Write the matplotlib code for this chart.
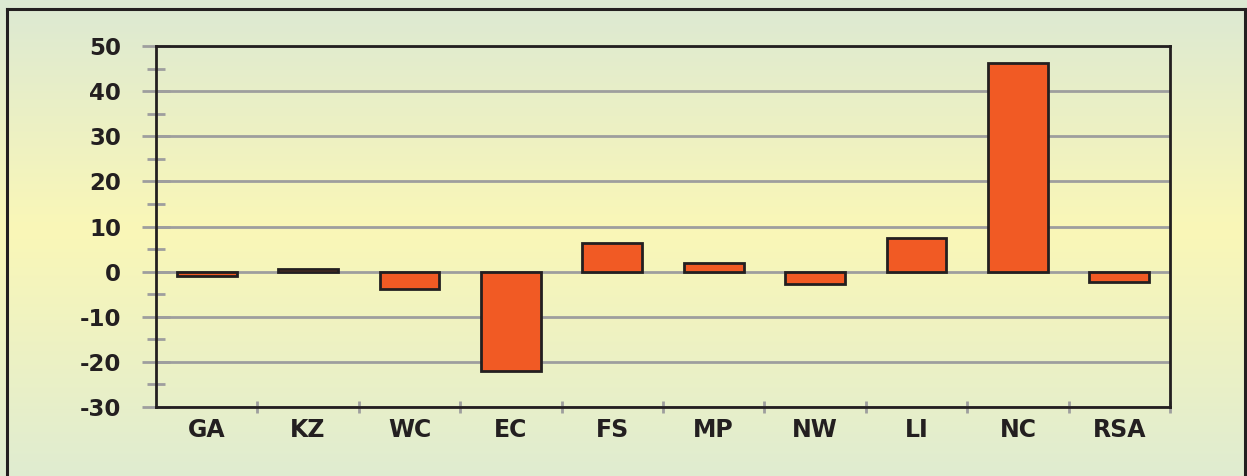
import numpy as np
import matplotlib
matplotlib.use("Agg")
import matplotlib.pyplot as plt
from matplotlib.colors import LinearSegmentedColormap
from matplotlib.lines import Line2D
from matplotlib.ticker import MultipleLocator, FixedLocator

plt.rcParams["axes.unicode_minus"] = False

categories = ["GA", "KZ", "WC", "EC", "FS", "MP", "NW", "LI", "NC", "RSA"]
values = [-0.9, 0.6, -3.8, -22.0, 6.3, 2.0, -2.7, 7.4, 46.3, -2.2]
y_ticks = [-30, -20, -10, 0, 10, 20, 30, 40, 50]

W, H = 1247, 476
fig = plt.figure(figsize=(W / 100, H / 100), dpi=100)
fig.patch.set_facecolor("#DDEBD3")

# background gradient (extends past the bottom edge of the figure)
ext = 0.05
bg = fig.add_axes([0, -ext, 1, 1 + ext], zorder=-10)
cmap = LinearSegmentedColormap.from_list(
    "bg", [(0.0, "#DCE9D3"), (0.46, "#FAF7B7"), (1.0, "#DDEBD3")])
grad = np.linspace(0, 1, 256).reshape(-1, 1)
bg.imshow(grad, aspect="auto", cmap=cmap, extent=[0, 1, 0, 1], origin="upper",
          interpolation="bilinear")
bg.set_xlim(0, 1)
bg.set_ylim(0, 1)
bg.axis("off")

# outer frame: left, top, right only
fr = fig.add_artist
xl, xr, yt = 6.5 / W, 1245 / W, 1 - 8.5 / H
for xs, ys in [([xl, xl], [-0.1, yt]), ([xl, xr], [yt, yt]), ([xr, xr], [yt, -0.1])]:
    fr(Line2D(xs, ys, color="#231F20", linewidth=2.2, transform=fig.transFigure,
              solid_capstyle="projecting"))

ax = fig.add_axes([156 / W, (H - 407) / H, (1170 - 156) / W, (407 - 46) / H])
ax.patch.set_alpha(0)
x = np.arange(len(categories))
ax.bar(x, values, width=0.59, color="#F15A24", edgecolor="#231F20",
       linewidth=2.0, zorder=3)

ax.set_xlim(-0.5, len(categories) - 0.5)
ax.set_ylim(-30, 50)
ax.yaxis.set_major_locator(FixedLocator(y_ticks))
ax.yaxis.set_minor_locator(MultipleLocator(5))
ax.set_xticks(x)
ax.set_xticklabels(categories)
ax.xaxis.set_minor_locator(FixedLocator(np.arange(0.5, len(categories), 1.0)))

ax.grid(axis="y", which="major", color="#9E9E9E", linewidth=2.0, zorder=1)
ax.set_axisbelow(True)

for s in ax.spines.values():
    s.set_color("#231F20")
    s.set_linewidth(2.0)

txt = "#231F20"
ax.tick_params(axis="y", which="major", direction="inout", length=20,
               width=2.0, color="#9E9E9E", labelsize=16.5, labelcolor=txt, pad=15)
ax.tick_params(axis="y", which="minor", direction="inout", length=13.5,
               width=2.0, color="#9E9E9E")
ax.tick_params(axis="x", which="major", length=0, labelsize=17,
               labelcolor=txt, pad=8)
ax.tick_params(axis="x", which="minor", direction="inout", length=8,
               width=2.0, color="#9E9E9E")
for lab in ax.get_xticklabels() + ax.get_yticklabels():
    lab.set_fontweight("bold")
    lab.set_family("DejaVu Sans")

fig.savefig("out.png", dpi=100)
